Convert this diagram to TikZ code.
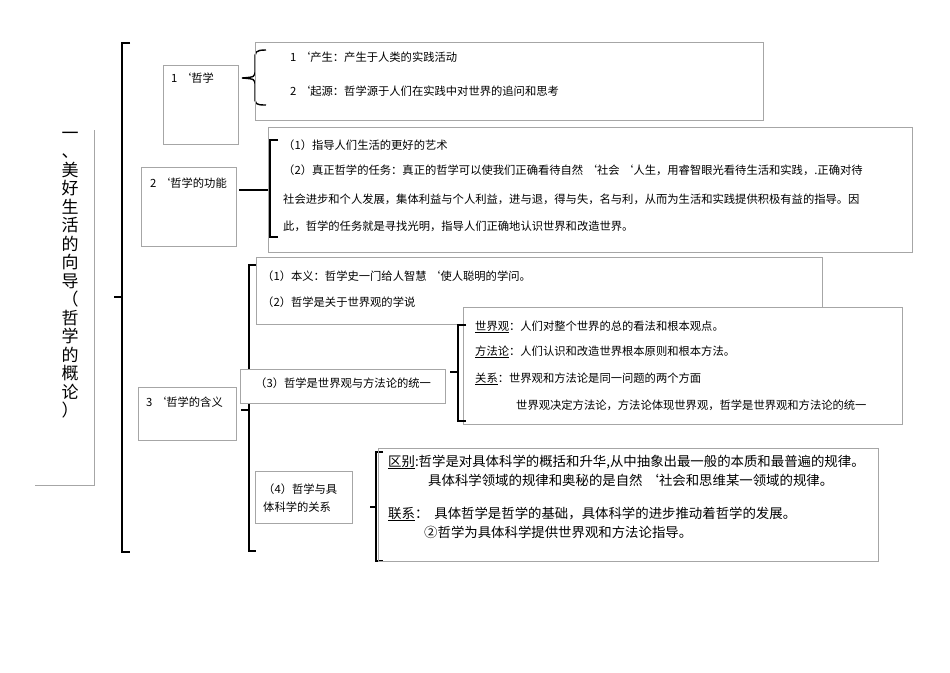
\documentclass[tikz,border=0pt]{standalone}
\usepackage{fontspec}
\setmainfont{Noto Sans CJK SC}
\begin{document}
\begin{tikzpicture}[x=1pt,y=-1pt,
  bx/.style={draw=black!35,line width=0.6pt},
  br/.style={draw=black,line width=1.4pt},
  tx/.style={anchor=west,inner sep=0pt,font=\fontsize{11.3}{13}\selectfont},
  tb/.style={anchor=west,inner sep=0pt,font=\fontsize{13.4}{15}\selectfont}]
\useasboundingbox[fill=white] (0,0) rectangle (950,672);
% title
\node[inner sep=0pt,font=\fontsize{17}{18.5}\selectfont,align=center] (title) at (70,275) {一\\、\\美\\好\\生\\活\\的\\向\\导\\（\\哲\\学\\的\\概\\论\\）};
\draw[black!35] (94,130) -- (94,485) -- (35,485);
% main bracket
\draw[br] (130,43) -- (122,43) -- (122,552) -- (130,552);
\draw[br] (122,297) -- (114,297);
% box 1
\node[bx,minimum width=75pt,minimum height=79pt,inner sep=0pt] (b1) at (200.5,104.5) {};
\node[tx] (b1t) at (171,78) {1 `哲学};
\draw[br] (266,50) .. controls (255,50) and (255,52) .. (255,60) -- (255,70) .. controls (255,77) .. (242,78) .. controls (255,79) .. (255,86) -- (255,96) .. controls (255,104) and (255,105) .. (266,105);
\node[bx,minimum width=508pt,minimum height=78pt,inner sep=0pt] (r1) at (509,81) {};
\node[tx] (r1a) at (290,57) {1 `产生：产生于人类的实践活动};
\node[tx] (r1b) at (290,91) {2 `起源：哲学源于人们在实践中对世界的追问和思考};
% box 2
\node[bx,minimum width=95pt,minimum height=79pt,inner sep=0pt] (b2) at (188.5,206.5) {};
\node[tx] (b2t) at (150,183) {2 `哲学的功能};
\draw[br] (278,140) -- (270,140) -- (270,237) -- (278,237);
\draw[br] (270,190) -- (239,190);
\node[bx,minimum width=644pt,minimum height=125pt,inner sep=0pt] (r2) at (590,189.5) {};
\node[tx] (r2a) at (283,145) {（1）指导人们生活的更好的艺术};
\node[tx] (r2b) at (283,170) {（2）真正哲学的任务：真正的哲学可以使我们正确看待自然 `社会 `人生，用睿智眼光看待生活和实践，.正确对待};
\node[tx] (r2c) at (283,199) {社会进步和个人发展，集体利益与个人利益，进与退，得与失，名与利，从而为生活和实践提供积极有益的指导。因};
\node[tx] (r2d) at (283,226) {此，哲学的任务就是寻找光明，指导人们正确地认识世界和改造世界。};
% box 3
\node[bx,minimum width=98pt,minimum height=53pt,inner sep=0pt] (b3) at (187,413.5) {};
\node[tx] (b3t) at (146,402) {3 `哲学的含义};
\draw[br] (256,265) -- (249,265) -- (249,551) -- (256,551);
\draw[br] (249,410) -- (241,410);
\node[bx,minimum width=566pt,minimum height=67pt,inner sep=0pt] (r31) at (539,290.5) {};
\node[tx] (r31a) at (262,276) {（1）本义：哲学史一门给人智慧 `使人聪明的学问。};
\node[tx] (r31b) at (262,302) {（2）哲学是关于世界观的学说};
\node[bx,fill=white,minimum width=439pt,minimum height=117pt,inner sep=0pt] (r32) at (682.5,365.5) {};
\node[bx,fill=white,minimum width=205pt,minimum height=34pt,inner sep=0pt] (b33) at (342.5,386) {};
\node[tx] (b33t) at (255,383) {（3）哲学是世界观与方法论的统一};
\draw[br] (466,325) -- (458,325) -- (458,421) -- (466,421);
\draw[br] (458,372) -- (450,372);
\node[tx] (r32a) at (475,327) {\underline{世界观}：人们对整个世界的总的看法和根本观点。};
\node[tx] (r32b) at (475,352) {\underline{方法论}：人们认识和改造世界根本原则和根本方法。};
\node[tx] (r32c) at (475,379) {\underline{关系}：世界观和方法论是同一问题的两个方面};
\node[tx] (r32d) at (516,405) {世界观决定方法论，方法论体现世界观，哲学是世界观和方法论的统一};
% box 4
\node[bx,minimum width=97pt,minimum height=52pt,inner sep=0pt] (b4) at (303.5,497) {};
\node[tx] (b4a) at (263,489) {（4）哲学与具};
\node[tx] (b4b) at (263,507) {体科学的关系};
\draw[br] (383,452) -- (376,452) -- (376,561) -- (383,561);
\draw[br] (376,507) -- (370,507);
\node[bx,minimum width=500pt,minimum height=113pt,inner sep=0pt] (r4) at (628,504.5) {};
\node[tb] (r4a) at (388,462) {\underline{区别}:哲学是对具体科学的概括和升华,从中抽象出最一般的本质和最普遍的规律。};
\node[tb] (r4b) at (428,480) {具体科学领域的规律和奥秘的是自然 `社会和思维某一领域的规律。};
\node[tb] (r4c) at (388,514) {\underline{联系}：\hspace{6pt}具体哲学是哲学的基础，具体科学的进步推动着哲学的发展。};
\node[tb] (r4d) at (424,532) {②哲学为具体科学提供世界观和方法论指导。};
\end{tikzpicture}
\end{document}
